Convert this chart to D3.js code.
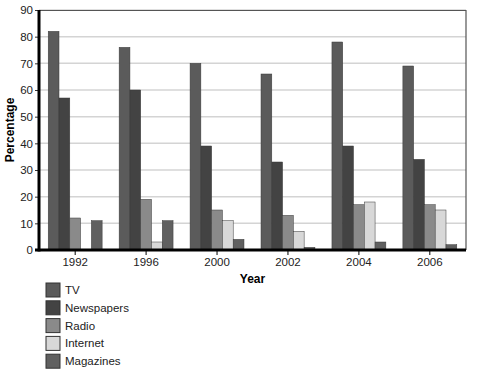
<!DOCTYPE html>
<html>
<head>
<meta charset="utf-8">
<script src="https://cdn.jsdelivr.net/npm/d3@7"></script>
<style>
  body { margin: 0; background: #fff; }
  svg { font-family: "Liberation Sans", Arial, sans-serif; }
  .axis text { font-size: 11.5px; fill: #222; }
  .title { font-size: 12px; font-weight: bold; fill: #000; }
  .legend-text { font-size: 11.5px; fill: #222; }
</style>
</head>
<body>
<div id="vis"></div>
<script>
var years = ['1992', '1996', '2000', '2002', '2004', '2006'];
var media = ['TV', 'Newspapers', 'Radio', 'Internet', 'Magazines'];
var tv         = [82, 76, 70, 66, 78, 69];
var newspapers = [57, 60, 39, 33, 39, 34];
var radio      = [12, 19, 15, 13, 17, 17];
var internet   = [0, 3, 11, 7, 18, 15];
var magazines  = [11, 11, 4, 1, 3, 2];
var yTicks = [0, 10, 20, 30, 40, 50, 60, 70, 80, 90];
var colors = ['#5b5b5b', '#434343', '#8a8a8a', '#d8d8d8', '#606060'];

var series = [tv, newspapers, radio, internet, magazines];

var margin = { left: 39, top: 10, right: 14, bottom: 128 };
var width = 480, height = 378,
    drawWidth = width - margin.left - margin.right,
    drawHeight = height - margin.top - margin.bottom;

var svg = d3.select('#vis').append('svg')
            .attr('width', width)
            .attr('height', height);
var g = svg.append('g')
           .attr('transform', `translate(${margin.left},${margin.top})`);

var xScale = d3.scaleBand().domain(years).range([0, drawWidth]).paddingInner(0.24).paddingOuter(0.13);
var xSub = d3.scaleBand().domain(media).range([0, xScale.bandwidth()]);
var yScale = d3.scaleLinear().domain([0, 90]).range([drawHeight, 0]);

// gridlines
g.selectAll('.grid').data(yTicks.slice(1)).enter()
 .append('line')
 .attr('x1', 0).attr('x2', drawWidth)
 .attr('y1', d => yScale(d)).attr('y2', d => yScale(d))
 .style('stroke', '#d4d4d4').style('stroke-width', 1.5);

// frame top/right
g.append('path')
 .attr('d', `M0,0.5H${drawWidth}V${drawHeight}`)
 .style('fill', 'none').style('stroke', '#555').style('stroke-width', 1.2);

// bars
var groups = g.selectAll('.year').data(years).enter()
              .append('g')
              .attr('transform', d => `translate(${xScale(d)},0)`);
groups.selectAll('rect')
      .data((d, i) => media.map((m, j) => ({ m: m, j: j, v: series[j][i] })))
      .enter().append('rect')
      .attr('x', d => xSub(d.m))
      .attr('width', xSub.bandwidth())
      .attr('y', d => yScale(d.v))
      .attr('height', d => drawHeight - yScale(d.v))
      .style('fill', d => colors[d.j])
      .style('stroke', d => d.v > 0 ? '#3a3a3a' : 'none')
      .style('stroke-width', 0.5);

// axes
var yAxis = d3.axisLeft(yScale).tickValues(yTicks).tickSize(4).tickPadding(2);
var yAxisG = g.append('g').attr('class', 'axis').call(yAxis);
yAxisG.select('.domain').remove();
yAxisG.selectAll('line').style('stroke', '#333');
g.append('line').attr('x1', 0).attr('x2', 0).attr('y1', 0).attr('y2', drawHeight + 1.5)
 .style('stroke', '#000').style('stroke-width', 3);

var xAxis = d3.axisBottom(xScale).tickSize(5).tickPadding(3);
var xAxisG = g.append('g').attr('class', 'axis')
              .attr('transform', `translate(0,${drawHeight})`).call(xAxis);
xAxisG.select('.domain').remove();
xAxisG.selectAll('line').style('stroke', '#000');
g.append('line').attr('x1', -4).attr('x2', drawWidth).attr('y1', drawHeight).attr('y2', drawHeight)
 .style('stroke', '#000').style('stroke-width', 3);

svg.append('text').attr('class', 'title')
   .attr('transform', `translate(${margin.left + drawWidth / 2},${margin.top + drawHeight + 33})`)
   .style('text-anchor', 'middle').text('Year');
svg.append('text').attr('class', 'title')
   .attr('transform', `translate(14,${margin.top + drawHeight / 2})`+' rotate(-90)')
   .style('text-anchor', 'middle').text('Percentage');

// legend
var legend = svg.selectAll('.legend').data(media).enter()
                .append('g')
                .attr('transform', (d, i) => `translate(46,${283 + i * 17.8})`);
legend.append('rect')
      .attr('width', 14).attr('height', 14)
      .style('fill', (d, i) => colors[i])
      .style('stroke', '#333').style('stroke-width', 1);
legend.append('text').attr('class', 'legend-text')
      .attr('x', 19).attr('y', 7).attr('dy', '.35em')
      .text(d => d);
</script>
</body>
</html>
